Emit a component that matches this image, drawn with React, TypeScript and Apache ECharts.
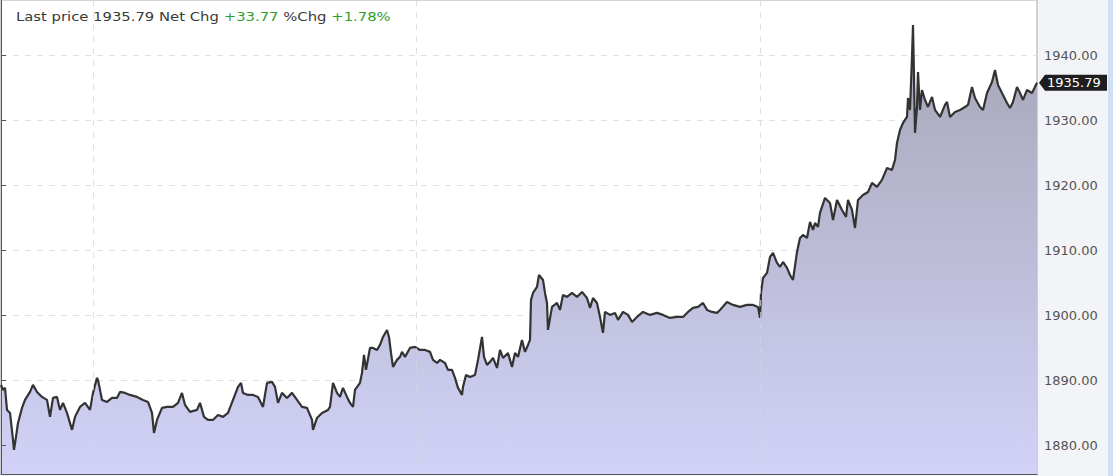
import React, { useEffect, useRef } from "react";
import * as echarts from "echarts";

// time (bar index) and price readings
const times = [
  0, 2, 4, 6, 9, 12, 13, 15, 17, 21, 24, 29, 32, 36, 41, 46, 49, 52, 56, 59, 62, 66, 71, 74, 79, 84, 89, 92, 96, 97,
  101, 106, 111, 116, 119, 124, 129, 136, 142, 147, 151, 153, 156, 161, 166, 172, 177, 181, 184, 189, 196, 199, 203,
  207, 212, 217, 222, 227, 232, 237, 240, 242, 247, 252, 257, 262, 266, 271, 274, 277, 281, 286, 291, 296, 301, 306,
  311, 312, 316, 321, 327, 329, 332, 336, 339, 342, 346, 349, 352, 354, 359, 361, 363, 365, 369, 372, 376, 379, 382,
  386, 388, 390, 392, 396, 399, 401, 404, 409, 414, 419, 424, 429, 432, 436, 439, 444, 447, 451, 454, 457, 461, 462,
  465, 469, 474, 477, 481, 483, 486, 489, 492, 496, 499, 502, 507, 511, 514, 517, 521, 524, 527, 529, 530, 532, 536,
  538, 542, 544, 546, 547, 551, 556, 559, 562, 566, 571, 576, 581, 586, 589, 592, 596, 599, 602, 604, 609, 614, 617,
  622, 627, 631, 636, 642, 649, 656, 662, 669, 676, 682, 687, 692, 697, 702, 706, 711, 716, 719, 726, 732, 739, 746,
  752, 757, 759, 760, 762, 766, 769, 772, 776, 779, 782, 786, 789, 792, 796, 799, 802, 806, 809, 812, 814, 817, 819,
  824, 829, 832, 836, 841, 845, 847, 851, 854, 857, 862, 867, 871, 876, 881, 886, 891, 894, 896, 899, 902, 906, 907,
  909, 911, 912, 913, 914, 916, 917, 919, 921, 924, 927, 931, 934, 939, 944, 946, 949, 954, 959, 964, 967, 971, 974,
  979, 982, 986, 991, 994, 997, 1001, 1006, 1009, 1012, 1016, 1019, 1022, 1026, 1031, 1036,
];
const prices = [
  1889.3, 1888.54, 1888.85, 1885.46, 1885.0, 1880.85, 1879.31, 1881.31, 1883.46, 1885.77, 1887.0, 1888.23, 1889.31,
  1888.23, 1887.46, 1887.0, 1884.39, 1887.31, 1887.46, 1885.46, 1886.54, 1885.0, 1882.39, 1884.39, 1885.92, 1886.54,
  1885.46, 1888.08, 1890.39, 1890.08, 1887.0, 1886.69, 1887.31, 1887.31, 1888.23, 1888.08, 1887.77, 1887.46, 1887.0,
  1886.69, 1885.0, 1881.92, 1883.92, 1885.77, 1885.92, 1885.92, 1886.54, 1888.08, 1886.23, 1885.16, 1885.46, 1886.54,
  1884.39, 1883.92, 1883.92, 1884.69, 1884.39, 1885.0, 1887.0, 1889.0, 1889.62, 1888.08, 1887.77, 1887.77, 1887.46,
  1885.92, 1889.62, 1889.77, 1889.0, 1886.54, 1888.08, 1887.31, 1888.08, 1887.0, 1885.92, 1885.77, 1883.92, 1882.39,
  1884.23, 1885.0, 1885.46, 1885.92, 1889.62, 1888.08, 1887.46, 1888.85, 1887.46, 1886.54, 1885.92, 1888.54, 1889.62,
  1891.16, 1893.92, 1891.62, 1895.0, 1895.0, 1894.69, 1895.46, 1896.69, 1897.77, 1896.69, 1894.23, 1892.08, 1893.16,
  1893.62, 1894.39, 1893.62, 1895.0, 1895.16, 1894.69, 1894.69, 1894.39, 1893.16, 1892.69, 1893.16, 1892.69, 1891.62,
  1891.62, 1890.39, 1888.85, 1887.77, 1889.0, 1890.85, 1890.54, 1890.85, 1893.16, 1896.69, 1893.62, 1892.39, 1892.85,
  1893.46, 1891.92, 1894.69, 1893.46, 1894.23, 1892.08, 1894.23, 1893.62, 1896.23, 1894.39, 1895.46, 1896.23, 1902.39,
  1903.46, 1904.39, 1906.23, 1905.46, 1903.46, 1901.92, 1897.77, 1901.31, 1901.92, 1900.85, 1903.16, 1902.85, 1903.46,
  1902.85, 1903.62, 1902.69, 1901.16, 1902.69, 1901.92, 1899.77, 1897.31, 1900.54, 1900.08, 1900.39, 1899.31, 1900.54,
  1900.08, 1899.0, 1899.77, 1900.54, 1900.08, 1900.39, 1900.08, 1899.62, 1899.77, 1899.77, 1900.54, 1901.16, 1901.31,
  1901.92, 1900.85, 1900.54, 1900.39, 1900.85, 1902.08, 1901.62, 1901.31, 1901.62, 1901.62, 1901.31, 1899.62, 1903.46,
  1905.77, 1906.54, 1909.0, 1909.62, 1908.08, 1907.46, 1908.23, 1907.31, 1906.23, 1905.46, 1909.77, 1911.92, 1912.39,
  1911.92, 1914.39, 1913.16, 1914.23, 1913.62, 1915.77, 1918.08, 1917.31, 1914.69, 1917.77, 1916.23, 1915.16, 1917.77,
  1916.23, 1913.46, 1917.77, 1918.54, 1919.0, 1920.39, 1919.77, 1920.85, 1922.69, 1922.39, 1923.92, 1926.54, 1928.54,
  1929.62, 1930.54, 1933.46, 1931.62, 1939.77, 1944.69, 1936.69, 1928.08, 1932.08, 1937.46, 1931.62, 1934.69, 1933.16,
  1932.08, 1933.62, 1931.62, 1930.54, 1932.39, 1932.85, 1930.54, 1931.31, 1931.62, 1932.08, 1932.39, 1935.16, 1933.46,
  1932.08, 1931.62, 1934.23, 1935.92, 1937.77, 1935.46, 1934.23, 1932.69, 1931.92, 1932.85, 1935.16, 1934.23, 1933.16,
  1934.69, 1934.23, 1935.79,
];
const sessionBreaks = [92, 415, 759];
const lastPrice = 1935.79;
const netChg = 33.77;
const pctChg = 1.78;

const FONT = "DejaVu Sans";
const GRID_COLOR = "rgba(212,212,222,0.75)";

export default function App() {
  const ref = useRef<HTMLDivElement>(null);

  useEffect(() => {
    const chart = echarts.init(ref.current!, null, { renderer: "svg" });
    const data = times.map((t, i) => [t, prices[i]]);

    const header = {
      id: "header",
      type: "text",
      x: 16,
      y: 16,
      scaleX: 1.14,
      style: {
        text:
          "{d|Last price " + lastPrice.toFixed(2) + " Net Chg }{g|+" + netChg.toFixed(2) + "}{d| %Chg }{g|+" + pctChg.toFixed(2) + "%}",
        verticalAlign: "middle",
        rich: {
          d: { fill: "#3a3a3a", fontSize: 13, fontFamily: FONT },
          g: { fill: "#2e9e2e", fontSize: 13, fontFamily: FONT },
        },
      },
      z: 10,
    };
    const strip = {
      id: "strip",
      type: "rect",
      shape: { x: 1108, y: 0, width: 5, height: 476 },
      style: { fill: "#cfe0f6" },
      z: 0,
    };

    chart.setOption({
      animation: false,
      backgroundColor: "#f3f4f7",
      grid: {
        left: 1,
        right: 76,
        top: 0,
        bottom: 2,
        show: true,
        backgroundColor: "#ffffff",
        borderColor: "#a8a8a8",
        borderWidth: 1,
      },
      xAxis: {
        type: "value",
        min: 0,
        max: 1036,
        z: 4,
        axisLabel: { show: false },
        axisTick: { show: false },
        splitLine: { show: false },
        axisLine: { show: true, onZero: false, lineStyle: { color: "#555", width: 1 } },
      },
      yAxis: {
        type: "value",
        position: "right",
        min: 1875.6,
        max: 1948.54,
        splitNumber: 7,
        z: 3,
        axisLine: { show: true, lineStyle: { color: "#555", width: 1 } },
        axisTick: { show: true, length: 5, lineStyle: { color: "#555" } },
        axisLabel: {
          color: "#555",
          fontSize: 13,
          fontFamily: FONT,
          margin: 7,
          showMinLabel: false,
          showMaxLabel: false,
          formatter: (v: number) => v.toFixed(2),
        },
        splitLine: { show: true, lineStyle: { color: GRID_COLOR, type: [6, 6], width: 1 } },
      },
      series: [
        {
          type: "line",
          data,
          symbol: "none",
          showSymbol: false,
          lineStyle: { color: "#333333", width: 2.2 },
          areaStyle: {
            opacity: 1,
            color: new echarts.graphic.LinearGradient(
              0,
              0,
              0,
              474,
              [
                { offset: 0, color: "#a3a3b3" },
                { offset: 1, color: "#d2d2f8" },
              ],
              true
            ),
          },
          markLine: {
            silent: true,
            symbol: "none",
            label: { show: false },
            lineStyle: { color: GRID_COLOR, type: [6, 6], width: 1 },
            data: sessionBreaks.map((t) => ({ xAxis: t })),
          },
        },
      ],
      graphic: [header, strip],
    });

    const y = chart.convertToPixel({ yAxisIndex: 0 }, lastPrice) as number;
    chart.setOption({
      graphic: [
        header,
        strip,
        {
          id: "tag",
          type: "polygon",
          shape: {
            points: [
              [1039, y],
              [1045, y - 8],
              [1107, y - 8],
              [1107, y + 8],
              [1045, y + 8],
            ],
          },
          style: { fill: "#1e1e1e" },
          z: 10,
        },
        {
          id: "tagText",
          type: "text",
          x: 1047,
          y: y,
          style: {
            text: lastPrice.toFixed(2),
            fill: "#ffffff",
            fontSize: 13,
            fontFamily: FONT,
            verticalAlign: "middle",
          },
          z: 11,
        },
      ],
    });

    return () => chart.dispose();
  }, []);

  return (
    <div
      ref={ref}
      style={{ position: "absolute", left: 0, top: 0, width: 1113, height: 476 }}
    />
  );
}
